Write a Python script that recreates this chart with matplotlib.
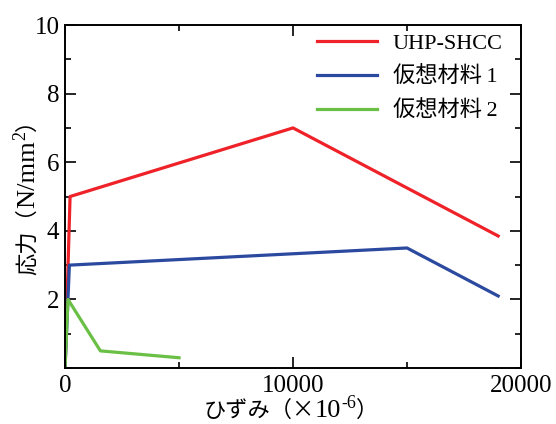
import numpy as np
import matplotlib.pyplot as plt
from matplotlib.ticker import MultipleLocator
from matplotlib.transforms import IdentityTransform

plt.rcParams['font.family'] = ['Liberation Serif', 'Noto Sans CJK JP']

# stress-strain curves (strain in 1e-6, stress in N/mm2)
uhp_strain = [0, 220, 10000, 19000]
uhp_stress = [0, 5.0, 7.0, 3.85]
mat1_strain = [0, 190, 15000, 19000]
mat1_stress = [0, 3.0, 3.5, 2.1]
mat2_strain = [0, 130, 1550, 5000]
mat2_stress = [0, 2.0, 0.5, 0.3]

labels = ['UHP-SHCC', '仮想材料\u20091', '仮想材料\u20092']
colors = ['#ee2228', '#2b4a9f', '#6abf45']

fig = plt.figure(figsize=(5.56, 4.24), dpi=100)
ax = fig.add_axes([0.117, 0.132, 0.820, 0.809])

ax.plot(uhp_strain, uhp_stress, color=colors[0], lw=2.3, label=labels[0])
ax.plot(mat1_strain, mat1_stress, color=colors[1], lw=2.3, label=labels[1])
ax.plot(mat2_strain, mat2_stress, color=colors[2], lw=2.3, label=labels[2])

ax.set_xlim(0, 20000)
ax.set_ylim(0, 10)
ax.set_xticks([0, 10000, 20000])
ax.xaxis.set_minor_locator(MultipleLocator(5000))
ax.set_yticks([2, 4, 6, 8, 10])
ax.yaxis.set_minor_locator(MultipleLocator(1))

ax.tick_params(which='both', direction='in', top=True, right=True, width=1.2)
ax.tick_params(which='major', length=8, labelsize=18)
ax.tick_params(which='minor', length=4)
ax.tick_params(axis='x', pad=5)
ax.tick_params(axis='y', pad=4)
for sp in ax.spines.values():
    sp.set_linewidth(1.4)

ax.legend(loc='upper right', bbox_to_anchor=(0.989, 1.0146), frameon=False,
          fontsize=16, handlelength=2.7, handletextpad=0.7, labelspacing=0.58,
          borderaxespad=0.3, borderpad=0.3)

# axis labels built from pieces: CJK text, serif text, raised superscript
CJK = ['Noto Sans CJK JP']
SERIF = ['Liberation Serif']
renderer = fig.canvas.get_renderer()


def piece_label(pieces, cx, cy, vertical=False):
    texts, sizes = [], []
    for s, size, fam, rise in pieces:
        t = fig.text(0, 0, s, fontsize=size, family=fam, ha='left',
                     va='baseline', rotation=90 if vertical else 0,
                     rotation_mode='anchor', transform=IdentityTransform())
        bb = t.get_window_extent(renderer)
        texts.append((t, rise))
        sizes.append(bb.height if vertical else bb.width)
    pos = cy - sum(sizes) / 2 if vertical else cx - sum(sizes) / 2
    for (t, rise), w in zip(texts, sizes):
        if vertical:
            t.set_position((cx - rise, pos))
        else:
            t.set_position((pos, cy + rise))
        pos += w


piece_label([('ひずみ（×', 16, CJK, 0), ('10', 19, SERIF, 0),
             ('-6', 13, SERIF, 9), ('）', 16, CJK, 0)], 291, 7)
piece_label([('応力（', 16, CJK, 0), ('N/mm', 19, SERIF, 0),
             ('2', 13, SERIF, 9), ('）', 16, CJK, 0)], 34, 232, vertical=True)

plt.savefig('out.png', dpi=100)
